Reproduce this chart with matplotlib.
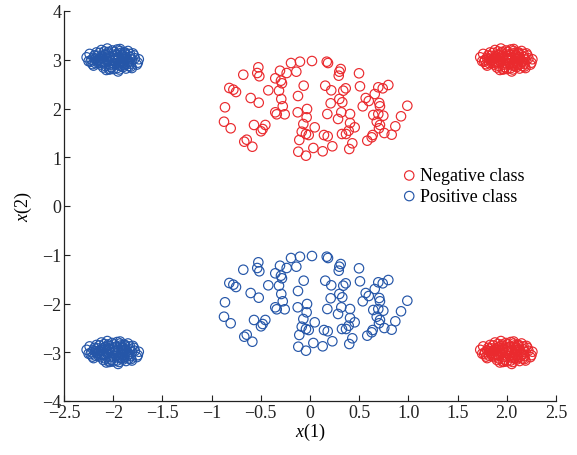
import matplotlib
matplotlib.use("Agg")
import matplotlib.pyplot as plt
import numpy as np

plt.rcParams["font.family"] = ["Liberation Serif", "DejaVu Serif"]
plt.rcParams["mathtext.fontset"] = "custom"
plt.rcParams["mathtext.rm"] = "Liberation Serif"
plt.rcParams["mathtext.it"] = "Liberation Serif:italic"

# spread-out points in the middle band (negative class, upper half)
neg_mid_x = [-0.525, -0.536, -0.515, -0.678, -0.305, -0.193, -0.102, 0.020, 0.170, 0.183,
             0.312, 0.298, 0.292, 0.498, -0.139, -0.237, -0.353, -0.295, -0.285, -0.820,
             -0.779, -0.752, -0.424, -0.315, -0.064, -0.122, 0.155, 0.216, 0.338, 0.363,
             0.508, 0.796, 0.739, 0.694, 0.658, 0.566, 0.597, 0.536, 0.704, 0.711,
             -0.603, -0.521, -0.292, -0.277, -0.864, 0.298, 0.328, 0.210, 0.989, -0.353,
             -0.338, -0.257, -0.125, -0.030, 0.176, 0.318, 0.407, 0.643, 0.694, 0.745,
             0.925, -0.034, 0.285, -0.874, -0.806, -0.569, -0.454, -0.481, -0.498, -0.068,
             0.048, 0.407, 0.454, 0.393, 0.678, 0.711, 0.701, 0.867, 0.755, 0.830,
             0.637, 0.627, 0.582, -0.084, -0.041, -0.013, 0.142, 0.180, 0.325, 0.366,
             -0.109, 0.430, 0.399, 0.227, 0.034, 0.129, -0.119, -0.041, -0.668, -0.643,
             -0.586]
neg_mid_y = [2.845, 2.728, 2.661, 2.693, 2.775, 2.933, 2.960, 2.974, 2.960, 2.933,
             2.810, 2.755, 2.673, 2.722, 2.755, 2.728, 2.619, 2.570, 2.517, 2.421,
             2.386, 2.338, 2.373, 2.365, 2.468, 2.256, 2.468, 2.373, 2.365, 2.414,
             2.455, 2.482, 2.414, 2.435, 2.297, 2.215, 2.154, 2.045, 2.113, 2.045,
             2.215, 2.119, 2.195, 2.045, 2.025, 2.195, 2.127, 2.107, 2.057, 1.922,
             1.881, 1.881, 1.922, 1.990, 1.887, 1.922, 1.887, 1.867, 1.887, 1.852,
             1.840, 1.819, 1.785, 1.729, 1.594, 1.662, 1.662, 1.579, 1.532, 1.682,
             1.614, 1.703, 1.614, 1.545, 1.729, 1.662, 1.594, 1.635, 1.497, 1.463,
             1.456, 1.409, 1.340, 1.524, 1.477, 1.456, 1.456, 1.430, 1.477, 1.477,
             1.354, 1.286, 1.169, 1.225, 1.190, 1.122, 1.114, 1.032, 1.319, 1.360,
             1.216]

# positive class middle band sits at the same x positions, lower half
pos_mid_x = list(neg_mid_x)
pos_mid_y = [-1.155, -1.272, -1.339, -1.307, -1.225, -1.067, -1.040, -1.026, -1.040, -1.067,
             -1.190, -1.245, -1.327, -1.278, -1.245, -1.272, -1.381, -1.430, -1.483, -1.579,
             -1.614, -1.662, -1.627, -1.635, -1.532, -1.744, -1.532, -1.627, -1.635, -1.586,
             -1.545, -1.518, -1.586, -1.565, -1.703, -1.785, -1.846, -1.955, -1.887, -1.955,
             -1.785, -1.881, -1.805, -1.955, -1.975, -1.805, -1.873, -1.893, -1.943, -2.078,
             -2.119, -2.119, -2.078, -2.010, -2.113, -2.078, -2.113, -2.133, -2.113, -2.148,
             -2.160, -2.181, -2.215, -2.271, -2.406, -2.338, -2.338, -2.421, -2.468, -2.318,
             -2.386, -2.297, -2.386, -2.455, -2.271, -2.338, -2.406, -2.365, -2.503, -2.537,
             -2.544, -2.591, -2.660, -2.476, -2.523, -2.544, -2.544, -2.570, -2.523, -2.523,
             -2.646, -2.714, -2.831, -2.775, -2.810, -2.878, -2.886, -2.968, -2.681, -2.640,
             -2.784]

# tight corner clusters: centres and point offsets around them
neg_centres = [(2.0, 3.0), (2.0, -3.0)]
pos_centres = [(-2.0, 3.0), (-2.0, -3.0)]
blob_dx = [0.00, 0.05, -0.06, 0.10, -0.11, 0.02, -0.03, 0.14, -0.15, 0.08,
           -0.08, 0.18, -0.19, 0.04, -0.05, 0.12, -0.13, 0.22, -0.23, 0.06,
           -0.01, 0.16, -0.17, 0.26, -0.27, 0.09, -0.10, 0.20, -0.21, 0.03,
           -0.04, 0.13, -0.12, 0.24, -0.24, 0.07, -0.07, 0.17, -0.16, 0.11,
           -0.09, 0.01, -0.02, 0.15, -0.14, 0.19, -0.20, 0.05, -0.06, 0.21,
           -0.22, 0.10, -0.11, 0.00, 0.08, -0.04, 0.13, -0.18, 0.25, -0.25,
           0.02, 0.16, -0.12, 0.06, -0.08, 0.18, -0.15, 0.11, -0.03, 0.04,
           0.03, -0.07, 0.09, -0.12, 0.15, -0.16, 0.01, 0.06, -0.10, 0.12,
           -0.02, 0.19, -0.18, 0.07, -0.05, 0.10, -0.14, 0.04, -0.09, 0.14,
           0.00, -0.04, 0.11, -0.13, 0.17, -0.20, 0.08, -0.01, 0.05, -0.08]
blob_dy = [0.00, 0.04, -0.03, -0.06, 0.07, 0.11, -0.10, 0.02, -0.01, 0.14,
           -0.13, -0.08, 0.09, -0.17, 0.16, 0.12, -0.06, 0.03, -0.04, -0.20,
           0.19, -0.13, 0.15, 0.01, 0.05, 0.08, -0.16, 0.13, -0.09, -0.07,
           0.05, -0.18, 0.20, -0.10, 0.12, 0.22, -0.21, 0.06, -0.02, -0.11,
           0.10, 0.16, -0.15, 0.18, 0.03, -0.17, -0.12, -0.24, 0.23, 0.09,
           0.00, 0.01, -0.05, -0.07, -0.12, 0.08, 0.06, 0.02, -0.06, -0.03,
           0.03, -0.04, 0.05, -0.09, 0.10, -0.14, -0.07, 0.15, -0.19, 0.21,
           -0.08, 0.02, 0.10, 0.04, -0.05, 0.08, 0.07, -0.12, -0.04, 0.15,
           -0.16, 0.00, -0.07, 0.18, 0.13, -0.15, 0.14, 0.11, 0.17, -0.09,
           -0.19, -0.20, 0.05, -0.10, 0.12, 0.04, -0.02, 0.04, -0.01, -0.06]

x_ticks = [-2.5, -2, -1.5, -1, -0.5, 0, 0.5, 1.0, 1.5, 2.0, 2.5]
x_tick_labels = ["\u22122.5", "\u22122", "\u22121.5", "\u22121", "\u22120.5", "0",
                 "0.5", "1.0", "1.5", "2.0", "2.5"]
y_ticks = [-4, -3, -2, -1, 0, 1, 2, 3, 4]

red = "#ea2a2e"
blue = "#2556a8"


def gather(mid_x, mid_y, centres):
    xs, ys = list(mid_x), list(mid_y)
    for cx, cy in centres:
        xs += [cx + d for d in blob_dx]
        ys += [cy + d for d in blob_dy]
    return np.array(xs), np.array(ys)


neg_x, neg_y = gather(neg_mid_x, neg_mid_y, neg_centres)
pos_x, pos_y = gather(pos_mid_x, pos_mid_y, pos_centres)

fig = plt.figure(figsize=(5.77, 4.56), dpi=100)
ax = fig.add_axes([64 / 577, 1 - 402 / 456, 492 / 577, 390 / 456])

ax.scatter(neg_x, neg_y, s=46, facecolors="none", edgecolors=red, linewidths=0.85,
           label="Negative class")
ax.scatter(pos_x, pos_y, s=46, facecolors="none", edgecolors=blue, linewidths=0.85,
           label="Positive class")

ax.set_xlim(-2.5, 2.5)
ax.set_ylim(-4, 4)
ax.set_xticks(x_ticks)
ax.set_xticklabels(x_tick_labels)
ax.set_yticks(y_ticks)
ax.set_yticklabels([str(v).replace("-", "\u2212") for v in y_ticks])
ax.tick_params(direction="in", length=4, width=0.8, labelsize=13, pad=2, colors="#222222")
ax.spines["top"].set_visible(False)
ax.spines["right"].set_visible(False)
for side in ("left", "bottom"):
    ax.spines[side].set_linewidth(0.9)
    ax.spines[side].set_color("#222222")

ax.set_xlabel("$x$(1)", fontsize=13, labelpad=0)
ax.set_ylabel("$x$(2)", fontsize=13, labelpad=6)

ax.legend(loc="upper left", bbox_to_anchor=(0.665, 0.618), frameon=False,
          fontsize=13, handletextpad=0.0, handlelength=1.2, labelspacing=0.2,
          borderaxespad=0)

fig.savefig("out.png", dpi=100)
